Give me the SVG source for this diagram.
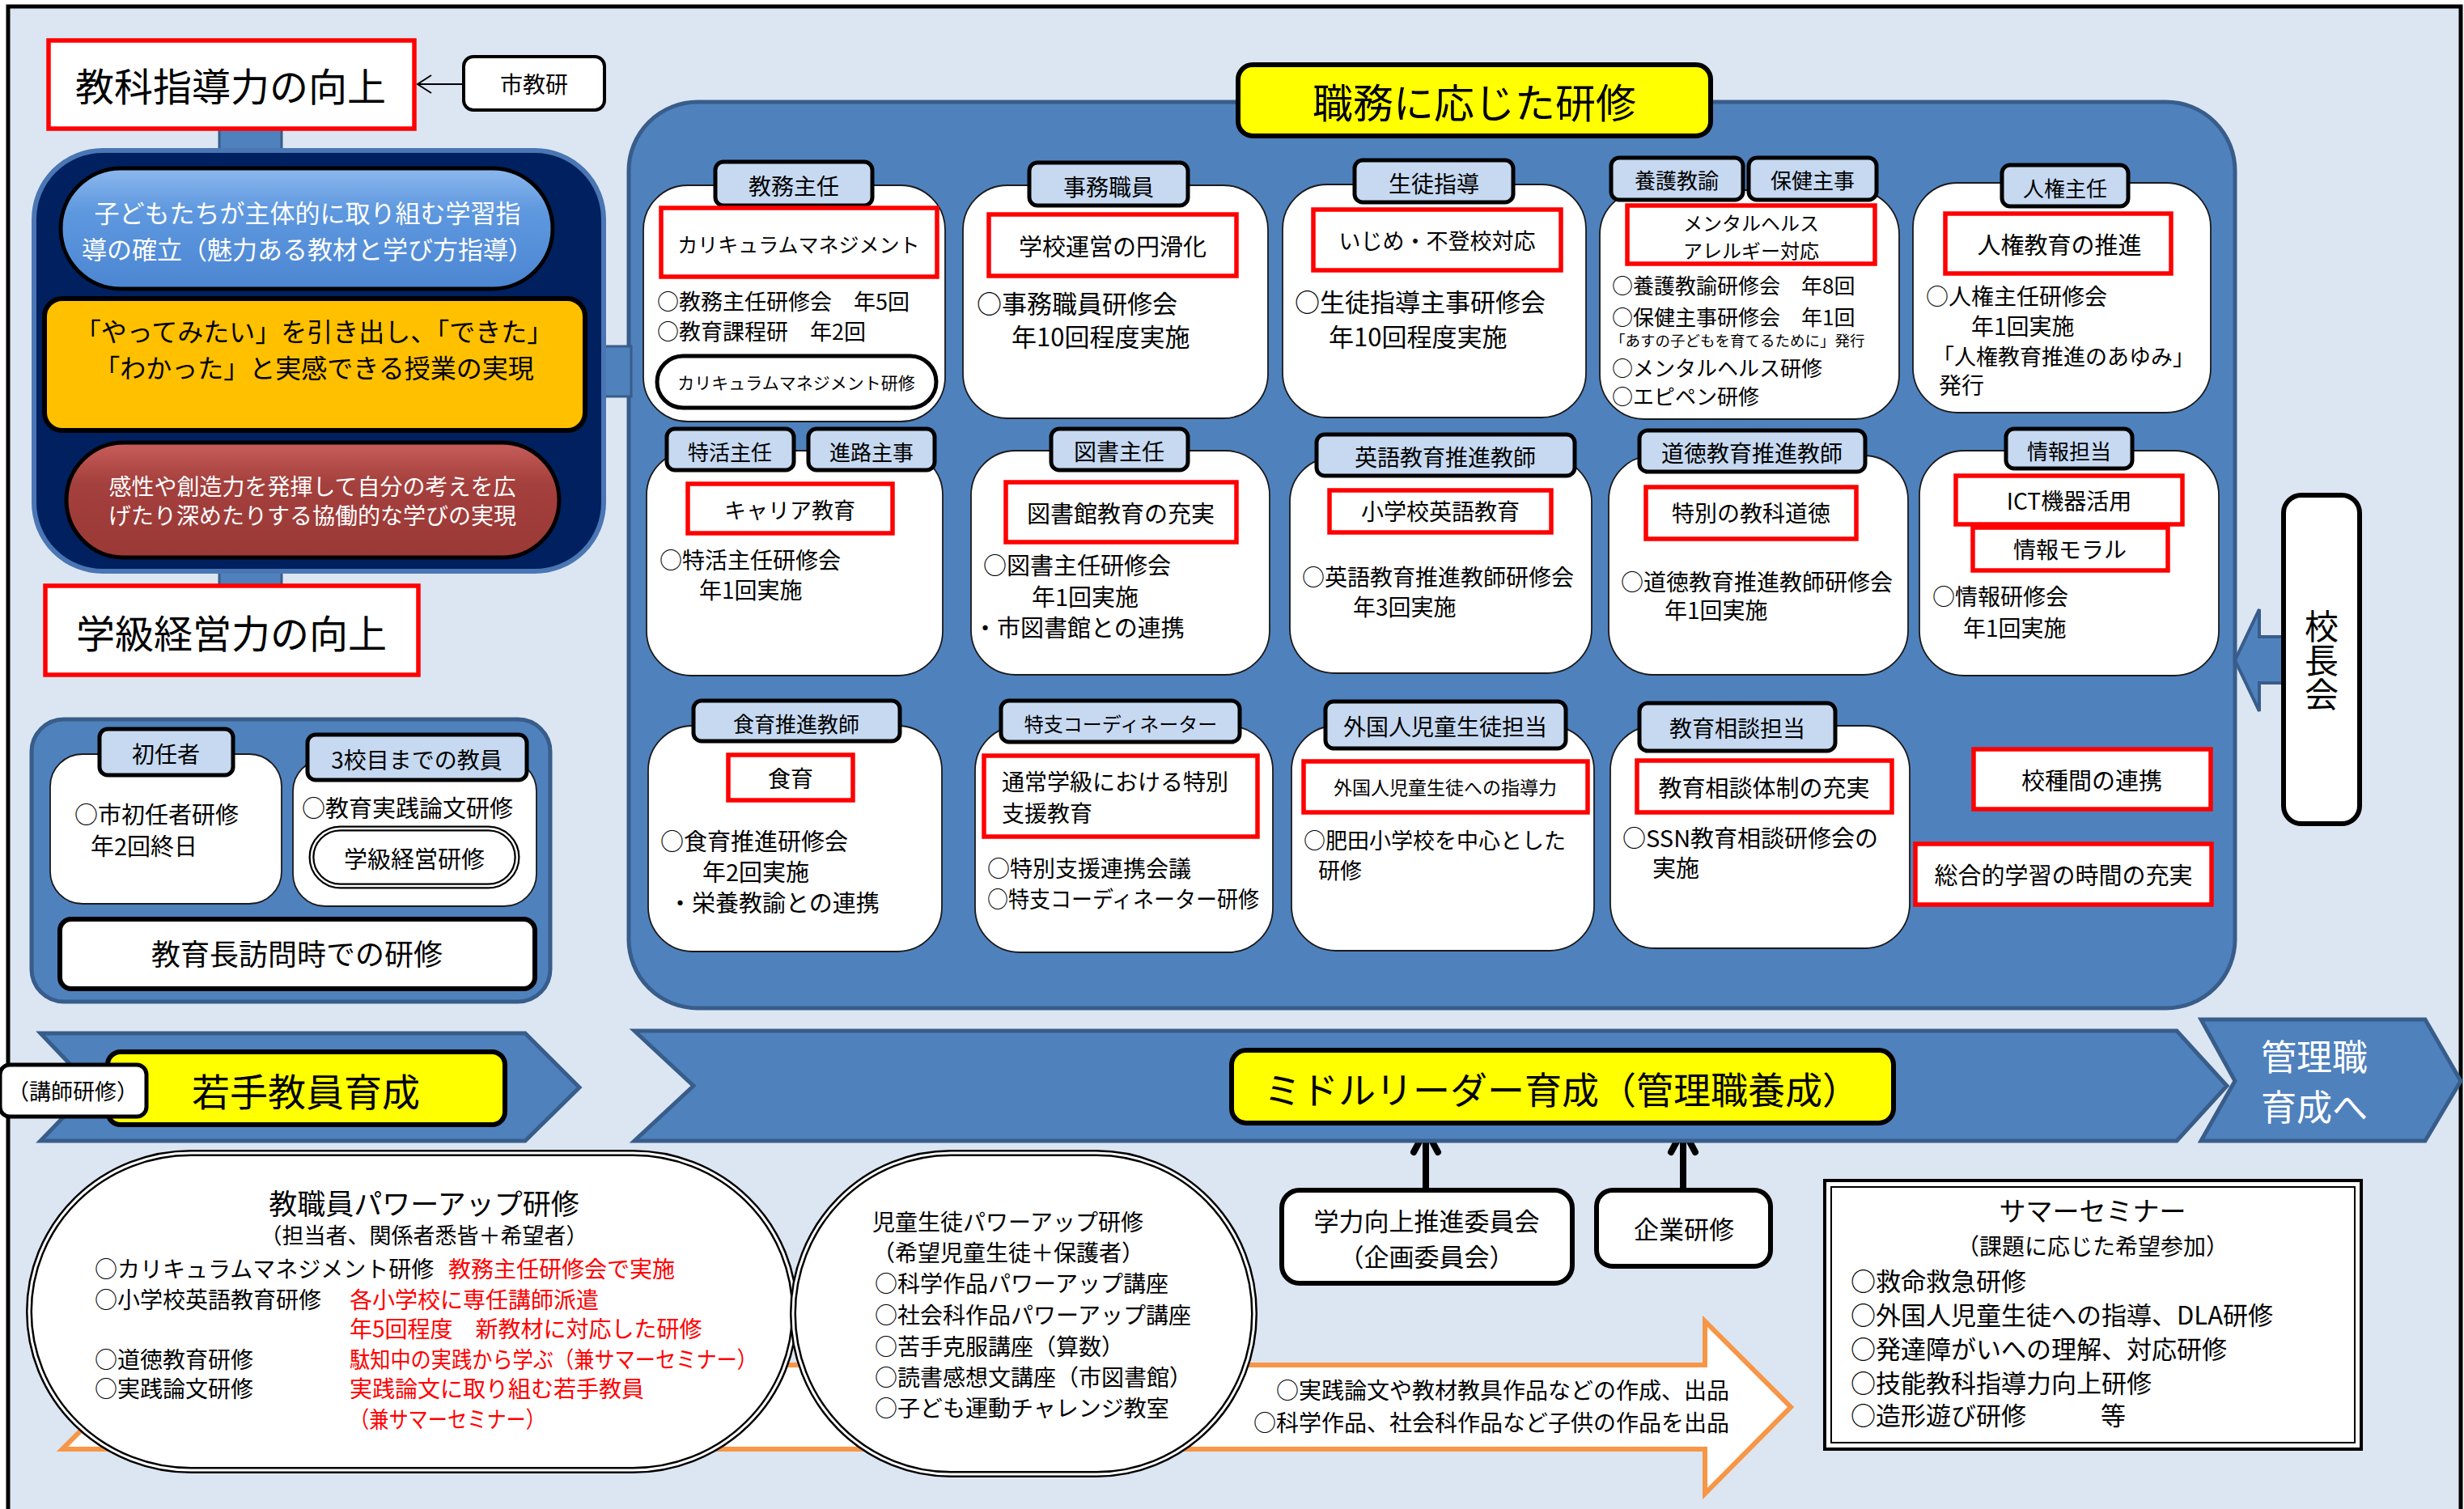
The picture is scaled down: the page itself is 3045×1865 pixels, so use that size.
<svg xmlns="http://www.w3.org/2000/svg" width="3045" height="1865" viewBox="0 0 3045 1865">
<defs>
<linearGradient id="gBlue" x1="0" y1="0" x2="0" y2="1"><stop offset="0" stop-color="#8DB8EE"/><stop offset="0.35" stop-color="#5E98DF"/><stop offset="1" stop-color="#4C86D2"/></linearGradient>
<linearGradient id="gRed" x1="0" y1="0" x2="0" y2="1"><stop offset="0" stop-color="#C85E5B"/><stop offset="0.35" stop-color="#A4403D"/><stop offset="1" stop-color="#9A3936"/></linearGradient>
</defs>
<style>
text{font-family:"Noto Sans CJK JP","Noto Sans",sans-serif;fill:#000;dominant-baseline:central}
.c{text-anchor:middle}
.e{text-anchor:end}
.w{fill:#fff}
.r{fill:#FF0000}
.card{fill:#fff;stroke:#1a1a1a;stroke-width:1.8}
.tab{fill:#C6D9F1;stroke:#000;stroke-width:5}
.red{fill:#fff;stroke:#FF0000;stroke-width:5.5}
.blk{fill:#fff;stroke:#000;stroke-width:6}
.blue{fill:#4F81BD;stroke:#385D8A;stroke-width:5}
.yel{fill:#FFFF00;stroke:#000;stroke-width:6}
.f24{font-size:24px}.f26{font-size:26px}.f27{font-size:27px}.f28{font-size:28px}.f29{font-size:29px}.f31{font-size:31px}
</style>
<rect x="10" y="8" width="3031" height="1900" fill="#DCE6F2" stroke="#000" stroke-width="5"/>

<g id="main-container"><rect x="777" y="126" width="1985" height="1120" rx="85" class="blue"/></g>

<g id="connectors">
<rect x="271" y="154" width="77" height="34" fill="#4F81BD" stroke="#385D8A" stroke-width="3"/>
<rect x="271" y="704" width="77" height="22" fill="#4F81BD" stroke="#385D8A" stroke-width="3"/>
<rect x="744" y="428" width="36" height="62" fill="#4F81BD" stroke="#385D8A" stroke-width="3"/>
<line x1="573" y1="104" x2="516" y2="104" stroke="#000" stroke-width="2"/>
<polyline points="533,93 516,104 533,115" fill="none" stroke="#000" stroke-width="2"/>
<polygon points="2762,816 2792,753 2792,787 2822,787 2822,844 2792,844 2792,879" fill="#4F81BD" stroke="#385D8A" stroke-width="4"/>
<line x1="1762" y1="1469" x2="1762" y2="1398" stroke="#000" stroke-width="8"/>
<polyline points="1747,1424 1762,1396 1777,1424" fill="none" stroke="#000" stroke-width="8" stroke-linecap="round" stroke-linejoin="round"/>
<line x1="2080" y1="1469" x2="2080" y2="1398" stroke="#000" stroke-width="8"/>
<polyline points="2065,1424 2080,1396 2095,1424" fill="none" stroke="#000" stroke-width="8" stroke-linecap="round" stroke-linejoin="round"/>
</g>

<g id="kyoka">
<rect x="60" y="50" width="452" height="109" class="red"/>
<text x="285" y="104" class="c" font-size="48">教科指導力の向上</text>
</g>
<g id="shikyoken">
<rect x="573" y="70" width="174" height="66" rx="12" fill="#fff" stroke="#000" stroke-width="4"/>
<text x="660" y="103" class="c f28">市教研</text>
</g>

<g id="navy">
<rect x="42" y="186" width="704" height="520" rx="85" fill="#002060" stroke="#4A76B4" stroke-width="6"/>
<rect x="75" y="208" width="608" height="149" rx="74.5" fill="url(#gBlue)" stroke="#000" stroke-width="5"/>
<text x="380" y="261" class="c w f31">子どもたちが主体的に取り組む学習指</text>
<text x="380" y="306" class="c w f31">導の確立（魅力ある教材と学び方指導）</text>
<rect x="55" y="369" width="668" height="163" rx="22" fill="#FFC000" stroke="#000" stroke-width="6"/>
<text x="388" y="408" class="c" font-size="32">「やってみたい」を引き出し、「できた」</text>
<text x="388" y="453" class="c" font-size="32">「わかった」と実感できる授業の実現</text>
<rect x="82" y="547" width="609" height="142" rx="71" fill="url(#gRed)" stroke="#000" stroke-width="5"/>
<text x="386" y="600" class="c w f28">感性や創造力を発揮して自分の考えを広</text>
<text x="386" y="636" class="c w f28">げたり深めたりする協働的な学びの実現</text>
</g>

<g id="gakkyu">
<rect x="56" y="724" width="461" height="110" class="red"/>
<text x="286" y="780" class="c" font-size="48">学級経営力の向上</text>
</g>

<g id="shoninsha-group">
<rect x="39" y="889" width="641" height="349" rx="40" class="blue"/>
<rect x="62" y="932" width="286" height="185" rx="40" class="card"/>
<rect x="123" y="901" width="165" height="57" rx="10" class="tab"/>
<text x="205" y="931" class="c f28">初任者</text>
<text x="92" y="1005" class="f29">○市初任者研修</text>
<text x="112" y="1044" class="f29">年2回終日</text>
<rect x="362" y="938" width="301" height="182" rx="40" class="card"/>
<rect x="380" y="908" width="271" height="56" rx="10" class="tab"/>
<text x="515" y="938" class="c f28">3校目までの教員</text>
<text x="373" y="997" class="f29">○教育実践論文研修</text>
<rect x="385" y="1024" width="254" height="71" rx="35.5" fill="#fff" stroke="#000" stroke-width="7"/>
<rect x="385" y="1024" width="254" height="71" rx="35.5" fill="none" stroke="#fff" stroke-width="2.5"/>
<text x="512" y="1060" class="c f29">学級経営研修</text>
<rect x="74" y="1136" width="587" height="86" rx="14" class="blk"/>
<text x="367" y="1177" class="c" font-size="36">教育長訪問時での研修</text>
</g>

<g id="title-shokumu">
<rect x="1530" y="80" width="584" height="88" rx="18" class="yel"/>
<text x="1822" y="124" class="c" font-size="50">職務に応じた研修</text>
</g>

<g id="card-kyomu">
<rect x="795" y="229" width="373" height="292" rx="55" class="card"/>
<rect x="884" y="200" width="194" height="54" rx="10" class="tab"/>
<text x="981" y="229" class="c f28">教務主任</text>
<rect x="817" y="257" width="341" height="85" class="red"/>
<text x="987" y="301" class="c" font-size="25">カリキュラムマネジメント</text>
<text x="812" y="371" class="f27">○教務主任研修会　年5回</text>
<text x="812" y="408" class="f27">○教育課程研　年2回</text>
<rect x="812" y="440" width="345" height="64" rx="32" fill="#fff" stroke="#000" stroke-width="5"/>
<text x="984" y="472" class="c" font-size="21">カリキュラムマネジメント研修</text>
</g>

<g id="card-jimu">
<rect x="1190" y="229" width="377" height="288" rx="55" class="card"/>
<rect x="1272" y="201" width="196" height="53" rx="10" class="tab"/>
<text x="1370" y="230" class="c f28">事務職員</text>
<rect x="1222" y="265" width="306" height="76" class="red"/>
<text x="1375" y="303" class="c f29">学校運営の円滑化</text>
<text x="1207" y="373" class="f31">○事務職員研修会</text>
<text x="1250" y="414" class="f31">年10回程度実施</text>
</g>

<g id="card-seito">
<rect x="1585" y="228" width="375" height="288" rx="55" class="card"/>
<rect x="1674" y="198" width="196" height="52" rx="10" class="tab"/>
<text x="1772" y="226" class="c f28">生徒指導</text>
<rect x="1623" y="259" width="306" height="75" class="red"/>
<text x="1776" y="296" class="c f27">いじめ・不登校対応</text>
<text x="1600" y="371" class="f31">○生徒指導主事研修会</text>
<text x="1642" y="414" class="f31">年10回程度実施</text>
</g>

<g id="card-yogo">
<rect x="1977" y="235" width="370" height="283" rx="55" class="card"/>
<rect x="1991" y="195" width="163" height="52" rx="10" class="tab"/>
<text x="2072" y="221" class="c f26">養護教諭</text>
<rect x="2161" y="195" width="158" height="52" rx="10" class="tab"/>
<text x="2240" y="221" class="c f26">保健主事</text>
<rect x="2011" y="254" width="306" height="72" class="red"/>
<text x="2164" y="274" class="c f24">メンタルヘルス</text>
<text x="2164" y="308" class="c f24">アレルギー対応</text>
<text x="1992" y="351" class="f26">○養護教諭研修会　年8回</text>
<text x="1992" y="390" class="f26">○保健主事研修会　年1回</text>
<text x="1990" y="420" font-size="18.5">「あすの子どもを育てるために」発行</text>
<text x="1992" y="453" class="f26">○メンタルヘルス研修</text>
<text x="1992" y="488" class="f26">○エピペン研修</text>
</g>

<g id="card-jinken">
<rect x="2364" y="226" width="368" height="284" rx="55" class="card"/>
<rect x="2474" y="204" width="156" height="51" rx="10" class="tab"/>
<text x="2552" y="231" class="c f26">人権主任</text>
<rect x="2404" y="264" width="279" height="74" class="red"/>
<text x="2545" y="301" class="c f29">人権教育の推進</text>
<text x="2380" y="365" class="f28">○人権主任研修会</text>
<text x="2436" y="402" class="f28">年1回実施</text>
<text x="2388" y="439" class="f27">「人権教育推進のあゆみ」</text>
<text x="2396" y="475" class="f28">発行</text>
</g>

<g id="card-tokkatsu">
<rect x="799" y="557" width="366" height="278" rx="55" class="card"/>
<rect x="824" y="530" width="157" height="51" rx="10" class="tab"/>
<text x="902" y="557" class="c f26">特活主任</text>
<rect x="999" y="530" width="156" height="51" rx="10" class="tab"/>
<text x="1077" y="557" class="c f26">進路主事</text>
<rect x="850" y="598" width="253" height="61" class="red"/>
<text x="976" y="629" class="c f27">キャリア教育</text>
<text x="815" y="691" class="f28">○特活主任研修会</text>
<text x="864" y="728" class="f28">年1回実施</text>
</g>

<g id="card-tosho">
<rect x="1200" y="557" width="369" height="277" rx="55" class="card"/>
<rect x="1299" y="530" width="169" height="51" rx="10" class="tab"/>
<text x="1383" y="557" class="c f28">図書主任</text>
<rect x="1243" y="596" width="285" height="74" class="red"/>
<text x="1385" y="633" class="c f29">図書館教育の充実</text>
<text x="1215" y="697" class="f29">○図書主任研修会</text>
<text x="1275" y="736" class="f29">年1回実施</text>
<text x="1203" y="774" class="f29">・市図書館との連携</text>
</g>

<g id="card-eigo">
<rect x="1594" y="565" width="373" height="267" rx="55" class="card"/>
<rect x="1627" y="537" width="319" height="51" rx="10" class="tab"/>
<text x="1786" y="564" class="c f28">英語教育推進教師</text>
<rect x="1643" y="606" width="274" height="52" class="red"/>
<text x="1780" y="631" class="c f28">小学校英語教育</text>
<text x="1609" y="712" class="f28">○英語教育推進教師研修会</text>
<text x="1672" y="749" class="f28">年3回実施</text>
</g>

<g id="card-dotoku">
<rect x="1988" y="563" width="370" height="271" rx="55" class="card"/>
<rect x="2026" y="532" width="279" height="51" rx="10" class="tab"/>
<text x="2165" y="559" class="c f28">道徳教育推進教師</text>
<rect x="2034" y="602" width="260" height="64" class="red"/>
<text x="2164" y="633" class="c f28">特別の教科道徳</text>
<text x="2003" y="718" class="f28">○道徳教育推進教師研修会</text>
<text x="2057" y="753" class="f28">年1回実施</text>
</g>

<g id="card-joho">
<rect x="2372" y="557" width="370" height="278" rx="55" class="card"/>
<rect x="2479" y="530" width="156" height="49" rx="10" class="tab"/>
<text x="2557" y="556" class="c f26">情報担当</text>
<rect x="2417" y="588" width="280" height="60" class="red"/>
<text x="2557" y="618" class="c f28">ICT機器活用</text>
<rect x="2438" y="652" width="241" height="53" class="red"/>
<text x="2558" y="678" class="c f28">情報モラル</text>
<text x="2388" y="736" class="f28">○情報研修会</text>
<text x="2426" y="775" class="f28">年1回実施</text>
</g>

<g id="card-shokuiku">
<rect x="801" y="897" width="363" height="279" rx="55" class="card"/>
<rect x="857" y="866" width="255" height="50" rx="10" class="tab"/>
<text x="984" y="893" class="c f26">食育推進教師</text>
<rect x="900" y="933" width="154" height="56" class="red"/>
<text x="977" y="961" class="c f28">食育</text>
<text x="816" y="1038" class="f29">○食育推進研修会</text>
<text x="868" y="1076" class="f29">年2回実施</text>
<text x="826" y="1114" class="f29">・栄養教諭との連携</text>
</g>

<g id="card-tokushi">
<rect x="1205" y="897" width="368" height="280" rx="55" class="card"/>
<rect x="1237" y="866" width="295" height="51" rx="10" class="tab"/>
<text x="1385" y="893" class="c f24">特支コーディネーター</text>
<rect x="1216" y="934" width="338" height="100" class="red"/>
<text x="1238" y="965" class="f28">通常学級における特別</text>
<text x="1238" y="1004" class="f28">支援教育</text>
<text x="1220" y="1072" class="f28">○特別支援連携会議</text>
<text x="1220" y="1110" class="f28" textLength="336" lengthAdjust="spacingAndGlyphs">○特支コーディネーター研修</text>
</g>

<g id="card-gaikoku">
<rect x="1596" y="897" width="374" height="278" rx="55" class="card"/>
<rect x="1638" y="867" width="297" height="58" rx="10" class="tab"/>
<text x="1786" y="897" class="c f28">外国人児童生徒担当</text>
<rect x="1611" y="941" width="351" height="63" class="red"/>
<text x="1786" y="972" class="c" font-size="23">外国人児童生徒への指導力</text>
<text x="1611" y="1037" class="f27">○肥田小学校を中心とした</text>
<text x="1629" y="1074" class="f27">研修</text>
</g>

<g id="card-sodan">
<rect x="1990" y="897" width="370" height="275" rx="55" class="card"/>
<rect x="2026" y="869" width="242" height="59" rx="10" class="tab"/>
<text x="2147" y="899" class="c f28">教育相談担当</text>
<rect x="2023" y="940" width="315" height="64" class="red"/>
<text x="2180" y="972" class="c f29">教育相談体制の充実</text>
<text x="2005" y="1034" class="f29">○SSN教育相談研修会の</text>
<text x="2042" y="1071" class="f29">実施</text>
</g>

<g id="koshukan">
<rect x="2439" y="926" width="293" height="74" class="red"/>
<text x="2585" y="963" class="c f29">校種間の連携</text>
</g>
<g id="sogo">
<rect x="2367" y="1043" width="366" height="75" class="red"/>
<text x="2550" y="1080" class="c f29">総合的学習の時間の充実</text>
</g>

<g id="kochokai">
<rect x="2822" y="612" width="94" height="406" rx="22" class="blk"/>
<text x="2869" y="816" writing-mode="vertical-rl" text-anchor="middle" font-size="42" style="dominant-baseline:auto">校長会</text>
</g>

<g id="wakate">
<polygon points="50,1277 649,1277 716,1344 649,1410 50,1410 114,1344" class="blue"/>
<rect x="133" y="1300" width="491" height="90" rx="16" class="yel"/>
<text x="378" y="1346" class="c" font-size="47">若手教員育成</text>
<rect x="0" y="1316" width="181" height="64" rx="12" fill="#fff" stroke="#000" stroke-width="5"/>
<text x="90" y="1347" class="c f27">（講師研修）</text>
</g>

<g id="middle">
<polygon points="784,1274 2690,1274 2752,1342 2690,1410 784,1410 857,1342" class="blue"/>
<rect x="1522" y="1298" width="818" height="90" rx="18" class="yel"/>
<text x="1930" y="1344" class="c" font-size="46">ミドルリーダー育成（管理職養成）</text>
</g>

<g id="kanrishoku">
<polygon points="2720,1260 2997,1260 3041,1336 2997,1410 2720,1410 2762,1336" class="blue"/>
<text x="2860" y="1304" class="c w" font-size="44">管理職</text>
<text x="2860" y="1366" class="c w" font-size="44">育成へ</text>
</g>

<g id="gakuryoku">
<rect x="1584" y="1471" width="359" height="115" rx="22" class="blk"/>
<text x="1763" y="1507" class="c f31">学力向上推進委員会</text>
<text x="1763" y="1551" class="c f31">（企画委員会）</text>
</g>
<g id="kigyo">
<rect x="1973" y="1471" width="215" height="94" rx="20" class="blk"/>
<text x="2081" y="1517" class="c f31">企業研修</text>
</g>

<g id="orange-arrow">
<polygon points="77,1791 2107,1791 2107,1846 2213,1739 2107,1633 2107,1687 77,1687 129,1739" fill="#fff" stroke="#F79646" stroke-width="6"/>
<text x="2137" y="1717" class="e f28">○実践論文や教材教具作品などの作成、出品</text>
<text x="2137" y="1757" class="e f28">○科学作品、社会科作品など子供の作品を出品</text>
</g>

<g id="kyoshokuin">
<rect x="36" y="1425" width="946" height="392" rx="200" ry="196" fill="#fff" stroke="#000" stroke-width="8"/>
<rect x="36" y="1425" width="946" height="392" rx="200" ry="196" fill="none" stroke="#fff" stroke-width="3"/>
<text x="524" y="1485" class="c" font-size="35">教職員パワーアップ研修</text>
<text x="524" y="1525" class="c f27">（担当者、関係者悉皆＋希望者）</text>
<text x="117" y="1567" class="f28">○カリキュラムマネジメント研修</text>
<text x="554" y="1567" class="f28 r">教務主任研修会で実施</text>
<text x="117" y="1605" class="f28">○小学校英語教育研修</text>
<text x="432" y="1605" class="f28 r">各小学校に専任講師派遣</text>
<text x="432" y="1641" class="f28 r">年5回程度　新教材に対応した研修</text>
<text x="117" y="1679" class="f28">○道徳教育研修</text>
<text x="432" y="1679" class="f28 r" textLength="504" lengthAdjust="spacingAndGlyphs">駄知中の実践から学ぶ（兼サマーセミナー）</text>
<text x="117" y="1715" class="f28">○実践論文研修</text>
<text x="432" y="1715" class="f28 r">実践論文に取り組む若手教員</text>
<text x="432" y="1753" class="f28 r" textLength="242" lengthAdjust="spacingAndGlyphs">（兼サマーセミナー）</text>
</g>

<g id="jidoseito">
<rect x="980" y="1425" width="570" height="397" rx="195" ry="198" fill="#fff" stroke="#000" stroke-width="8"/>
<rect x="980" y="1425" width="570" height="397" rx="195" ry="198" fill="none" stroke="#fff" stroke-width="3"/>
<text x="1078" y="1509" class="f28">児童生徒パワーアップ研修</text>
<text x="1078" y="1547" class="f28">（希望児童生徒＋保護者）</text>
<text x="1081" y="1585" class="f28">○科学作品パワーアップ講座</text>
<text x="1081" y="1624" class="f28">○社会科作品パワーアップ講座</text>
<text x="1081" y="1663" class="f28">○苦手克服講座（算数）</text>
<text x="1081" y="1701" class="f28">○読書感想文講座（市図書館）</text>
<text x="1081" y="1739" class="f28">○子ども運動チャレンジ教室</text>
</g>

<g id="summer">
<rect x="2255" y="1459" width="663" height="332" fill="#fff" stroke="#000" stroke-width="4"/>
<rect x="2263" y="1467" width="647" height="316" fill="none" stroke="#000" stroke-width="2"/>
<text x="2586" y="1495" class="c" font-size="33">サマーセミナー</text>
<text x="2586" y="1539" class="c f28">（課題に応じた希望参加）</text>
<text x="2287" y="1581" class="f31">○救命救急研修</text>
<text x="2287" y="1623" class="f31">○外国人児童生徒への指導、DLA研修</text>
<text x="2287" y="1665" class="f31">○発達障がいへの理解、対応研修</text>
<text x="2287" y="1707" class="f31">○技能教科指導力向上研修</text>
<text x="2287" y="1747" class="f31">○造形遊び研修</text>
<text x="2596" y="1747" class="f31">等</text>
</g>
</svg>
